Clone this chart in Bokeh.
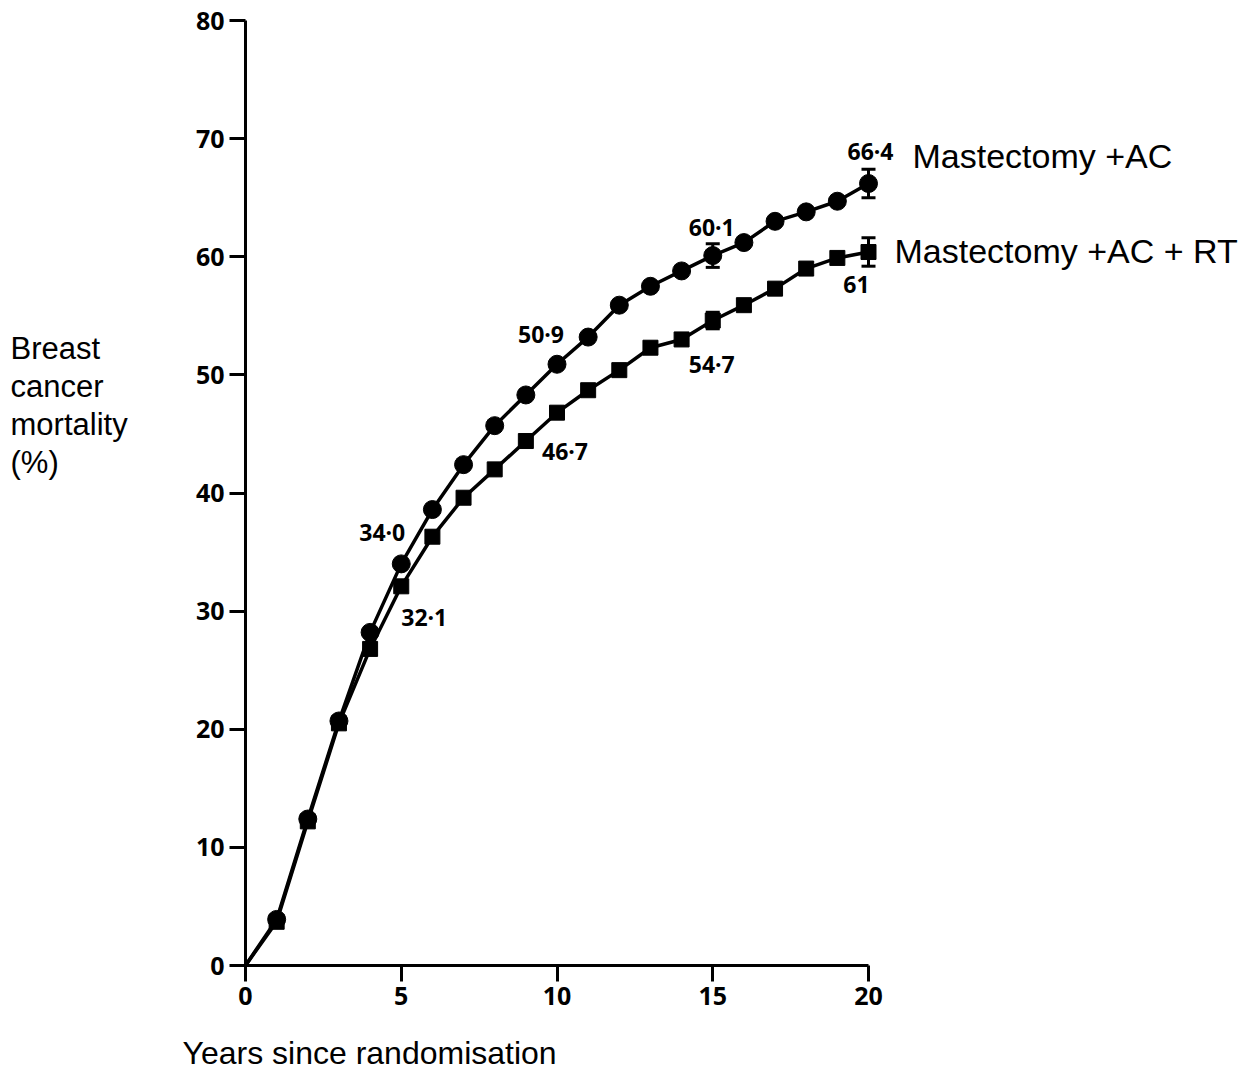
from bokeh.plotting import figure
from bokeh.models import Range1d, ColumnDataSource, Label, Whisker, TeeHead, FixedTicker
from bokeh.core.properties import value
from bokeh.embed import file_html
from bokeh.resources import INLINE

# ---- data ----
years = list(range(0, 21))
ac = [0, 3.9, 12.4, 20.7, 28.2, 34.0, 38.6, 42.4, 45.7, 48.3, 50.9,
      53.2, 55.9, 57.5, 58.8, 60.1, 61.2, 63.0, 63.8, 64.7, 66.2]
ac_rt = [0, 3.7, 12.2, 20.5, 26.8, 32.1, 36.3, 39.6, 42.0, 44.4, 46.8,
         48.7, 50.4, 52.3, 53.0, 54.6, 55.9, 57.3, 59.0, 59.9, 60.4]
err_years = [15, 20]
ac_err = [1.0, 1.2]
ac_rt_err = [0.7, 1.2]
lab_years = [5, 10, 15, 20]
ac_labels = ["34·0", "50·9", "60·1", "66·4"]
ac_rt_labels = ["32·1", "46·7", "54·7", "61"]
series_names = ["Mastectomy +AC", "Mastectomy +AC + RT"]
x_ticks = [0, 5, 10, 15, 20]
y_ticks = [0, 10, 20, 30, 40, 50, 60, 70, 80]
x_title = "Years since randomisation"
y_title = ["Breast", "cancer", "mortality", "(%)"]

# ---- layout: the data frame covers the whole canvas, axes sit at x=0 / y=0 ----
W, H = 1245, 1070
X0, Y0 = 245, 965           # canvas position of the origin
x_px = (868 - 245) / 20.0   # px per year
y_px = (965 - 20) / 80.0    # px per percent

p = figure(width=W, height=H, output_backend="svg", toolbar_location=None,
           x_range=Range1d(-X0 / x_px, (W - X0) / x_px),
           y_range=Range1d(-(H - Y0) / y_px, Y0 / y_px),
           min_border=0)
p.outline_line_color = None
p.grid.visible = False
p.background_fill_color = "white"
p.border_fill_color = "white"

def px2x(px):
    return (px - X0) / x_px

def py2y(py):
    return (Y0 - py) / y_px

tick_font = "Open Sans"
for ax, ticks, bounds in ((p.xaxis[0], x_ticks, (0, 20)), (p.yaxis[0], y_ticks, (0, 80))):
    ax.fixed_location = 0
    ax.ticker = FixedTicker(ticks=ticks)
    ax.bounds = bounds
    ax.minor_tick_line_color = None
    ax.axis_line_width = 3
    ax.major_tick_line_width = 3
    ax.major_tick_in = 0
    ax.major_tick_out = 16
    ax.major_label_standoff = 5
    ax.major_label_text_font = tick_font
    ax.major_label_text_font_style = "bold"
    ax.major_label_text_font_size = "25px"
    ax.major_label_text_color = "black"
    ax.axis_line_color = "black"
    ax.major_tick_line_color = "black"

src = ColumnDataSource(dict(x=years, ac=ac, rt=ac_rt))
p.line("x", "ac", source=src, line_width=3.5, color="black")
p.line("x", "rt", source=src, line_width=3.5, color="black")
msrc = ColumnDataSource(dict(x=years[1:], ac=ac[1:], rt=ac_rt[1:]))
p.scatter("x", "ac", source=msrc, marker="circle", size=18, color="black")
p.scatter("x", "rt", source=msrc, marker="square", size=15, color="black")

for vals, errs in ((ac, ac_err), (ac_rt, ac_rt_err)):
    base = [vals[years.index(t)] for t in err_years]
    esrc = ColumnDataSource(dict(x=err_years,
                                 lo=[b - e for b, e in zip(base, errs)],
                                 hi=[b + e for b, e in zip(base, errs)]))
    w = Whisker(base="x", lower="lo", upper="hi", source=esrc,
                line_width=3, line_color="black",
                upper_head=TeeHead(size=14, line_width=3, line_color="black"),
                lower_head=TeeHead(size=14, line_width=3, line_color="black"))
    p.add_layout(w)

# value labels next to points
ac_dx = [-19, -16, -1, 2]
ac_dy = [-32, -30, -29, -33]
rt_dx = [23, 8, -1, -12]
rt_dy = [31, 38, 43, 32]
for vals, labs, dxs, dys in ((ac, ac_labels, ac_dx, ac_dy), (ac_rt, ac_rt_labels, rt_dx, rt_dy)):
    lsrc = ColumnDataSource(dict(x=lab_years, y=[vals[years.index(t)] for t in lab_years],
                                 t=labs, dx=dxs, dy=dys))
    p.text("x", "y", text="t", source=lsrc, x_offset="dx", y_offset="dy",
           text_align="center", text_baseline="middle",
           text_font=value(tick_font), text_font_style="bold",
           text_font_size="23px", text_color="black")

# series names
for name, px, py in ((series_names[0], 912, 155), (series_names[1], 894, 250)):
    p.add_layout(Label(x=px2x(px), y=py2y(py), text=name,
                       text_font="Liberation Sans", text_font_size="34px",
                       text_color="black", text_baseline="alphabetic", text_align="left"))

# axis titles
p.add_layout(Label(x=px2x(182), y=py2y(1052), text=x_title,
                   text_font="Liberation Sans", text_font_size="32px",
                   text_color="black", text_baseline="alphabetic", text_align="left"))
for i, line in enumerate(y_title):
    p.add_layout(Label(x=px2x(10), y=py2y(348 + 38 * i), text=line,
                       text_font="Liberation Sans", text_font_size="31px",
                       text_color="black", text_baseline="alphabetic", text_align="left"))

open("out.html", "w").write(file_html(p, INLINE))
